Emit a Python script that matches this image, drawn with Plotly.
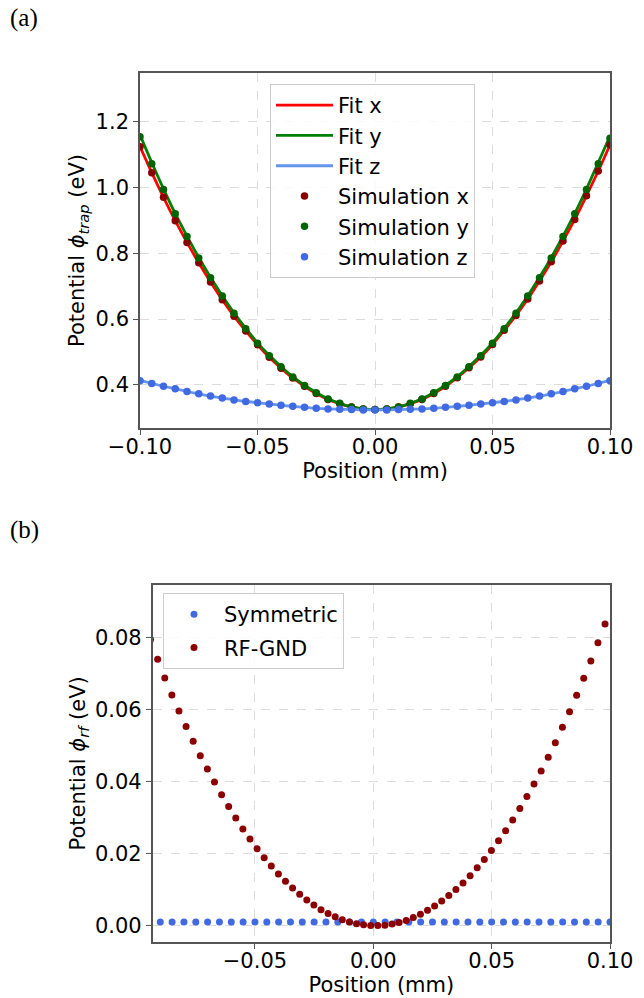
import plotly.graph_objects as go

# ---------------- data: panel (a) ----------------
pos_a = [-0.100, -0.095, -0.090, -0.085, -0.080, -0.075, -0.070, -0.065, -0.060, -0.055,
         -0.050, -0.045, -0.040, -0.035, -0.030, -0.025, -0.020, -0.015, -0.010, -0.005,
         0.000, 0.005, 0.010, 0.015, 0.020, 0.025, 0.030, 0.035, 0.040, 0.045,
         0.050, 0.055, 0.060, 0.065, 0.070, 0.075, 0.080, 0.085, 0.090, 0.095, 0.100]

sim_x = [1.124, 1.045, 0.970, 0.899, 0.833, 0.771, 0.713, 0.659, 0.609, 0.564,
         0.522, 0.484, 0.451, 0.421, 0.396, 0.374, 0.356, 0.343, 0.333, 0.327,
         0.325, 0.327, 0.333, 0.343, 0.356, 0.374, 0.396, 0.422, 0.452, 0.485,
         0.523, 0.566, 0.611, 0.661, 0.716, 0.774, 0.837, 0.903, 0.975, 1.050, 1.130]

sim_y = [1.154, 1.072, 0.994, 0.920, 0.851, 0.786, 0.726, 0.670, 0.618, 0.571,
         0.527, 0.489, 0.455, 0.424, 0.398, 0.376, 0.357, 0.344, 0.333, 0.327,
         0.325, 0.327, 0.333, 0.344, 0.357, 0.376, 0.398, 0.424, 0.455, 0.489,
         0.527, 0.571, 0.618, 0.670, 0.726, 0.786, 0.851, 0.920, 0.994, 1.072, 1.150]

sim_z = [0.413, 0.404, 0.396, 0.388, 0.380, 0.373, 0.366, 0.360, 0.354, 0.350,
         0.346, 0.342, 0.338, 0.335, 0.332, 0.329, 0.327, 0.326, 0.325, 0.324,
         0.324, 0.324, 0.325, 0.326, 0.327, 0.329, 0.332, 0.335, 0.338, 0.342,
         0.346, 0.350, 0.354, 0.360, 0.366, 0.373, 0.380, 0.388, 0.396, 0.404, 0.413]

fit_x = [1.124, 1.045, 0.970, 0.899, 0.833, 0.771, 0.713, 0.659, 0.609, 0.564,
         0.522, 0.484, 0.451, 0.421, 0.396, 0.374, 0.356, 0.343, 0.333, 0.327,
         0.325, 0.327, 0.333, 0.343, 0.356, 0.374, 0.396, 0.422, 0.452, 0.485,
         0.523, 0.566, 0.611, 0.661, 0.716, 0.774, 0.837, 0.903, 0.975, 1.050, 1.130]

fit_y = [1.160, 1.076, 0.996, 0.921, 0.852, 0.787, 0.727, 0.671, 0.619, 0.572,
         0.528, 0.490, 0.456, 0.425, 0.399, 0.377, 0.358, 0.344, 0.333, 0.327,
         0.325, 0.327, 0.333, 0.344, 0.358, 0.377, 0.399, 0.425, 0.456, 0.490,
         0.528, 0.572, 0.619, 0.671, 0.727, 0.787, 0.852, 0.921, 0.996, 1.076, 1.156]

fit_z = [0.414, 0.405, 0.396, 0.388, 0.380, 0.373, 0.366, 0.360, 0.355, 0.350,
         0.346, 0.342, 0.338, 0.335, 0.332, 0.329, 0.327, 0.326, 0.325, 0.324,
         0.324, 0.324, 0.325, 0.326, 0.327, 0.329, 0.332, 0.335, 0.338, 0.342,
         0.346, 0.350, 0.355, 0.360, 0.366, 0.373, 0.380, 0.388, 0.396, 0.405, 0.414]

# ---------------- data: panel (b) ----------------
pos_sym = [-0.090, -0.085, -0.080, -0.075, -0.070, -0.065, -0.060, -0.055, -0.050, -0.045,
           -0.040, -0.035, -0.030, -0.025, -0.020, -0.015, -0.010, -0.005, 0.000, 0.005,
           0.010, 0.015, 0.020, 0.025, 0.030, 0.035, 0.040, 0.045, 0.050, 0.055,
           0.060, 0.065, 0.070, 0.075, 0.080, 0.085, 0.090, 0.095, 0.100]
symmetric = [0.0011] * len(pos_sym)

pos_rf = [-0.0941, -0.0911, -0.0881, -0.0851, -0.0821, -0.0791, -0.0761, -0.0731, -0.0701, -0.0671,
          -0.0641, -0.0611, -0.0581, -0.0551, -0.0521, -0.0491, -0.0461, -0.0431, -0.0401, -0.0371,
          -0.0341, -0.0311, -0.0281, -0.0251, -0.0221, -0.0191, -0.0161, -0.0131, -0.0101, -0.0071,
          -0.0041, -0.0011, 0.0019, 0.0049, 0.0079, 0.0109, 0.0139, 0.0169, 0.0199, 0.0229,
          0.0259, 0.0289, 0.0319, 0.0349, 0.0379, 0.0409, 0.0439, 0.0469, 0.0499, 0.0529,
          0.0559, 0.0589, 0.0619, 0.0649, 0.0679, 0.0709, 0.0739, 0.0769, 0.0799, 0.0829,
          0.0859, 0.0889, 0.0919, 0.0949, 0.0979]
rf_gnd = [0.0795, 0.0740, 0.0688, 0.0641, 0.0596, 0.0553, 0.0512, 0.0472, 0.0435, 0.0399,
          0.0364, 0.0331, 0.0299, 0.0269, 0.0241, 0.0214, 0.0189, 0.0166, 0.0144, 0.0124,
          0.0105, 0.0088, 0.0072, 0.0058, 0.0045, 0.0034, 0.0025, 0.0017, 0.0011, 0.0006,
          0.0003, 0.0001, 0.0001, 0.0002, 0.0005, 0.0009, 0.0015, 0.0023, 0.0032, 0.0043,
          0.0055, 0.0069, 0.0084, 0.0101, 0.0119, 0.0139, 0.0161, 0.0184, 0.0209, 0.0236,
          0.0264, 0.0294, 0.0326, 0.0359, 0.0394, 0.0430, 0.0468, 0.0508, 0.0551, 0.0594,
          0.0640, 0.0687, 0.0735, 0.0786, 0.0838]

W, H = 644, 998
FONT = "DejaVu Sans"
FS = 21

fig = go.Figure()

# panel (a)
fig.add_trace(go.Scatter(x=pos_a, y=fit_x, mode="lines", name="Fit x", line=dict(color="#ff0000", width=2.8, shape="spline"),
                         xaxis="x", yaxis="y", legend="legend", legendgroup="a1"))
fig.add_trace(go.Scatter(x=pos_a, y=fit_y, mode="lines", name="Fit y", line=dict(color="#008000", width=2.8, shape="spline"),
                         xaxis="x", yaxis="y", legend="legend", legendgroup="a2"))
fig.add_trace(go.Scatter(x=pos_a, y=fit_z, mode="lines", name="Fit z", line=dict(color="#6495ed", width=2.8, shape="spline"),
                         xaxis="x", yaxis="y", legend="legend", legendgroup="a3"))
fig.add_trace(go.Scatter(x=pos_a, y=sim_x, mode="markers", name="Simulation x", marker=dict(color="#8b0000", size=7.5),
                         xaxis="x", yaxis="y", legend="legend", legendgroup="a4"))
fig.add_trace(go.Scatter(x=pos_a, y=sim_y, mode="markers", name="Simulation y", marker=dict(color="#006400", size=7.5),
                         xaxis="x", yaxis="y", legend="legend", legendgroup="a5"))
fig.add_trace(go.Scatter(x=pos_a, y=sim_z, mode="markers", name="Simulation z", marker=dict(color="#4169e1", size=7.5),
                         xaxis="x", yaxis="y", legend="legend", legendgroup="a6"))

# panel (b)
fig.add_trace(go.Scatter(x=pos_sym, y=symmetric, mode="markers", name="Symmetric", marker=dict(color="#4169e1", size=7),
                         xaxis="x2", yaxis="y2", legend="legend2", legendgroup="b1"))
fig.add_trace(go.Scatter(x=pos_rf, y=rf_gnd, mode="markers", name="RF-GND", marker=dict(color="#8b0000", size=7),
                         xaxis="x2", yaxis="y2", legend="legend2", legendgroup="b2"))

axis_common = dict(
    showline=True, mirror=True, linecolor="#555555", linewidth=1.6,
    ticks="outside", ticklen=5, tickwidth=1.3, tickcolor="#555555",
    showgrid=True, gridcolor="#dcdcdc", griddash="dash", gridwidth=0.8,
    zeroline=False, automargin=False,
    tickfont=dict(family=FONT, size=FS, color="black"),
)

def px_x(p):
    return p / W

def px_y(p):
    return 1 - p / H

fig.update_layout(
    width=W, height=H,
    margin=dict(l=0, r=0, t=0, b=0),
    paper_bgcolor="white", plot_bgcolor="white",
    font=dict(family=FONT, size=FS, color="black"),
    xaxis=dict(domain=[px_x(140), px_x(610)], anchor="y", range=[-0.1, 0.1], tick0=0, dtick=0.05,
               tickformat=".2f", ticklabelstandoff=-6,
               title=dict(text="Position (mm)", font=dict(size=FS), standoff=0), **axis_common),
    yaxis=dict(domain=[px_y(427.7), px_y(73.3)], anchor="x", range=[0.270, 1.347], tick0=0, dtick=0.2,
               tickformat=".1f", title=dict(text="Potential <i>ϕ</i><sub><i>trap</i></sub> (eV)", font=dict(size=FS), standoff=5),
               **axis_common),
    xaxis2=dict(domain=[px_x(152.7), px_x(610)], anchor="y2", range=[-0.0932, 0.1], tick0=0, dtick=0.05,
                tickformat=".2f", ticklabelstandoff=-6,
                title=dict(text="Position (mm)", font=dict(size=FS), standoff=0), **axis_common),
    yaxis2=dict(domain=[px_y(941.7), px_y(585)], anchor="x2", range=[-0.0044, 0.0946], tick0=0, dtick=0.02,
                tickformat=".2f", title=dict(text="Potential <i>ϕ</i><sub><i>rf</i></sub> (eV)", font=dict(size=FS), standoff=4),
                **axis_common),
    legend=dict(x=px_x(270), y=px_y(84), xanchor="left", yanchor="top",
                bgcolor="rgba(255,255,255,0.85)", bordercolor="#cccccc", borderwidth=1,
                font=dict(family=FONT, size=FS), tracegroupgap=0, itemwidth=57),
    legend2=dict(x=px_x(163), y=px_y(593), xanchor="left", yanchor="top",
                 bgcolor="rgba(255,255,255,0.85)", bordercolor="#cccccc", borderwidth=1,
                 font=dict(family=FONT, size=FS), tracegroupgap=3, itemwidth=50),
    showlegend=True,
    annotations=[
        dict(text="(a)", x=px_x(8), y=px_y(18), xref="paper", yref="paper", xanchor="left", yanchor="middle",
             showarrow=False, font=dict(family="Liberation Serif", size=25, color="black")),
        dict(text="(b)", x=px_x(8), y=px_y(530), xref="paper", yref="paper", xanchor="left", yanchor="middle",
             showarrow=False, font=dict(family="Liberation Serif", size=25, color="black")),
    ],
)

fig.write_html("out.html")
